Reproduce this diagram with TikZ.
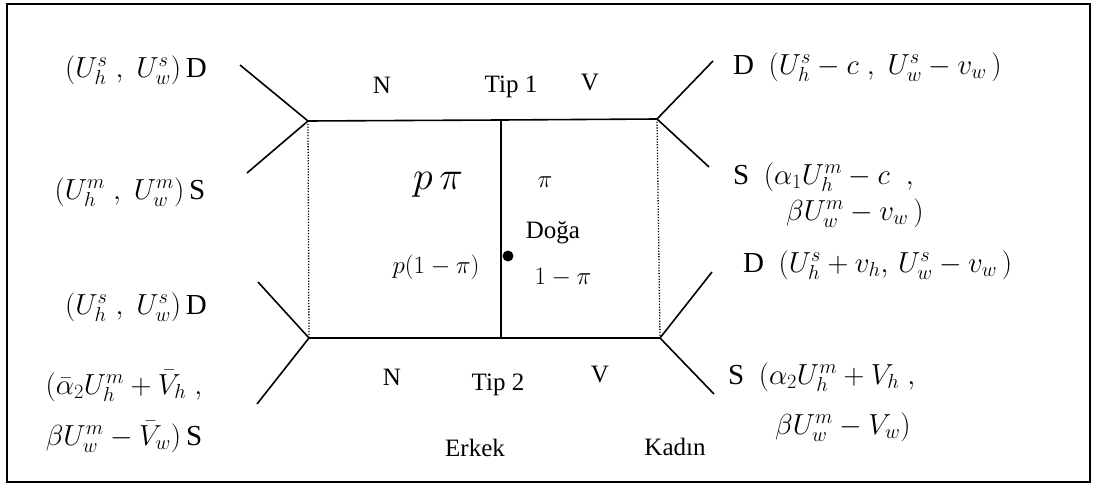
\RequirePackage{fix-cm}
\documentclass[tikz,border=0pt]{standalone}
\usepackage{fontspec}
\setmainfont{Liberation Serif}
\begin{document}
\begin{tikzpicture}[x=1pt,y=-1pt,
  every node/.style={inner sep=0pt, font=\fontsize{25}{30}\selectfont},
  edge/.style={line width=1.6pt},
  info/.style={line width=1.3pt, dash pattern=on 1.2pt off 1.6pt},
  lab/.style={anchor=center},
  pay/.style={font=\fontsize{29}{34}\selectfont},
  lft/.style={anchor=west, pay}]
\useasboundingbox (0,0) rectangle (1095,484);
\draw[line width=2.4pt] (7,4) rectangle (1090,482);
% vertices
\coordinate (TL) at (308,121);
\coordinate (TR) at (657,119);
\coordinate (BL) at (309,338);
\coordinate (BR) at (660,338);
\coordinate (TM) at (501,120);
\coordinate (BM) at (501,338);
\coordinate (TLa) at (240,65);
\coordinate (TLb) at (247,173);
\coordinate (BLa) at (258,282);
\coordinate (BLb) at (257,404);
\coordinate (TRa) at (713,61);
\coordinate (TRb) at (709,167);
\coordinate (BRa) at (712,272);
\coordinate (BRb) at (714,394);
\draw[edge] (TL) -- (TM) -- (TR);
\draw[edge] (BL) -- (BM) -- (BR);
\draw[edge] (TM) -- (BM);
\draw[info] (TL) -- (BL);
\draw[info] (TR) -- (BR);
\draw[edge] (TLa) -- (TL) -- (TLb);
\draw[edge] (BLa) -- (BL) -- (BLb);
\draw[edge] (TRa) -- (TR) -- (TRb);
\draw[edge] (BRa) -- (BR) -- (BRb);
\fill (508,256) circle (5.5pt) coordinate (nat);
% labels left
\node[lab,pay] (l1) at (136,70) {$(U_h^s\;,\;U_w^s)$\,D};
\node[lab,pay] (l2) at (130,192) {$(U_h^m\;,\;U_w^m)$\,S};
\node[lab,pay] (l3) at (136,307) {$(U_h^s\;,\;U_w^s)$\,D};
\node[lab,pay] (l4) at (124,386) {$(\bar\alpha_2U_h^m+\bar V_h\;,$};
\node[lab,pay] (l5) at (124,437) {$\beta U_w^m-\bar V_w)$\,S};
% labels right
\node[lft] (r1) at (733,67) {D\ \ $(U_h^s-c\;,\;U_w^s-v_w\,)$};
\node[lft] (r2) at (733,177) {S\ \ $(\alpha_1U_h^m-c\;\;,$};
\node[lft] (r3) at (786,213) {$\beta U_w^m-v_w\,)$};
\node[lft] (r4) at (743,265) {D\ \ $(U_h^s+v_h,\,U_w^s-v_w\,)$};
\node[lft] (r5) at (728,377) {S\ \ $(\alpha_2U_h^m+V_h\;,$};
\node[lft] (r6) at (775,427) {$\beta U_w^m-V_w)$};
% middle
\node[lab] (n1) at (382,85) {N};
\node[lab] (t1) at (511,87) {Tip 1};
\node[lab] (v1) at (590,83) {V};
\node[lab,font=\fontsize{40}{44}\selectfont] (ppi) at (438,185) {$p\,\pi$};
\node[lab] (pi) at (545,182) {$\pi$};
\node[lab] (doga) at (553,233) {Doğa};
\node[lab] (p1pi) at (436,267) {$p(1-\pi)$};
\node[lab] (onepi) at (563,277) {$1-\pi$};
\node[lab] (n2) at (392,377) {N};
\node[lab] (t2) at (498,385) {Tip 2};
\node[lab] (v2) at (600,375) {V};
\node[lab] (erkek) at (475,448) {Erkek};
\node[lab] (kadin) at (675,447) {Kadın};
\end{tikzpicture}
\end{document}
